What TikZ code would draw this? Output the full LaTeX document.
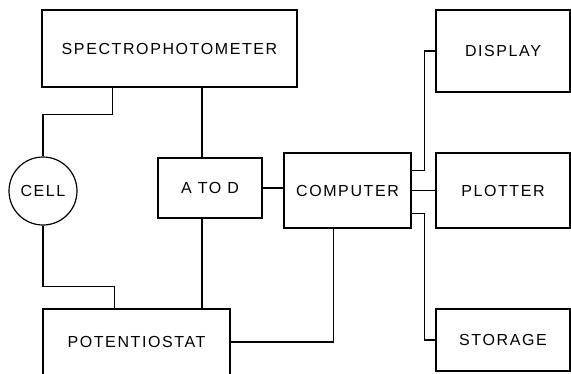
\documentclass[tikz,border=0pt]{standalone}
\usepackage{fontspec}
\setmainfont{Liberation Sans}[LetterSpace=10]
\usetikzlibrary{positioning}

\begin{document}
\begin{tikzpicture}[x=1pt,y=-1pt,font=\fontsize{16}{19}\selectfont,
box/.style={draw,line width=1.2pt,align=center,inner sep=0pt},
cellc/.style={box,circle,minimum size=68pt},
wire/.style={line width=1.2pt}]
\useasboundingbox (0,0) rectangle (571,373);
\node[box,minimum width=255pt,minimum height=77pt] (spec) at (169.5,48.5) {SPECTROPHOTOMETER};
\node[cellc] (cell) at (43,191) {CELL};
\node[box,minimum width=104pt,minimum height=60pt] (atod) at (210,188) {A TO D};
\node[box,minimum width=127pt,minimum height=75pt] (comp) at (347.5,190.5) {COMPUTER};
\node[box,minimum width=187pt,minimum height=66pt] (pot) at (136.5,342) {POTENTIOSTAT};
\node[box,minimum width=134pt,minimum height=82pt] (disp) at (503,51) {DISPLAY};
\node[box,minimum width=134pt,minimum height=75pt] (plot) at (503,190.5) {PLOTTER};
\node[box,minimum width=134pt,minimum height=62pt] (stor) at (503,340) {STORAGE};
% left side
\draw[wire] ([xshift=71pt]spec.south west) -- ++(0,27) -| (cell.north);
\draw[wire] (cell.south) -- ++(0,61) -| ([xshift=72pt]pot.north west);
\draw[wire] ([xshift=-8pt]atod.north) -- ([xshift=-8pt]atod.north |- spec.south);
\draw[wire] ([xshift=-8pt]atod.south) -- ([xshift=-8pt]atod.south |- pot.north);
\draw[wire] (atod.east) -- (atod.east -| comp.west);
\draw[wire] (pot.east) -| ([xshift=-14pt]comp.south);
% outputs
\draw[wire] ([yshift=20pt]comp.east) -- ++(13,0) |- (disp.west);
\draw[wire] (comp.east) -- (comp.east -| plot.west);
\draw[wire] ([yshift=-23pt]comp.east) -- ++(13,0) |- (stor.west);
\end{tikzpicture}
\end{document}
